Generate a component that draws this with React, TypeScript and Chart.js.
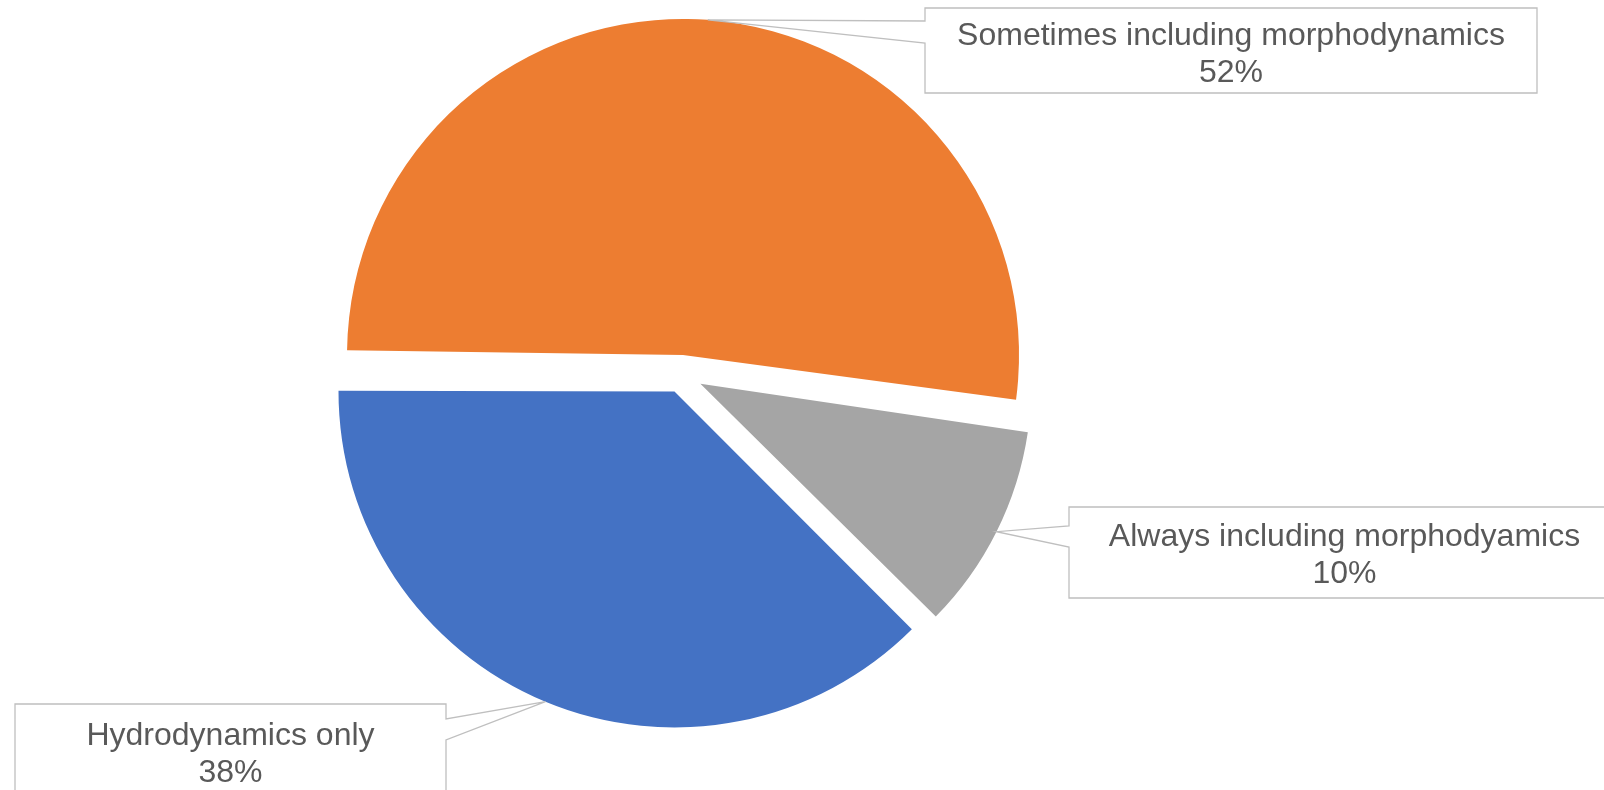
import React, { useEffect, useRef } from "react";
import { Chart, registerables } from "chart.js";

Chart.register(...registerables);

// ---- data (clockwise order, starting from the blue slice) ----
const categories = [
  "Hydrodynamics only",
  "Sometimes including morphodynamics",
  "Always including morphodyamics",
];
const shares = [37.6, 52.2, 10.2];
const sliceColors = ["#4472C4", "#ED7D31", "#A5A5A5"];
const explodeOffsets = [74, 78, 84]; // Chart.js arc offset (translation = offset / 4)
const sliceRadiusTrim = [0, 0, 5]; // px less than the common radius

// ---- callout layout (boxes, notch on box side, first baseline) ----
const calloutBoxes = [
  { x: 15, y: 704, w: 431, h: 92, side: "right", notch: [719, 740], baseline: 744.5 },
  { x: 925, y: 8, w: 612, h: 85, side: "left", notch: [21, 43], baseline: 45 },
  { x: 1069, y: 507, w: 551, h: 91, side: "left", notch: [526, 547], baseline: 545.7 },
];

const FONT = '32px "Liberation Sans", Arial, sans-serif';
const LINE_H = 37;
const TEXT_COLOR = "#595959";
const BORDER_COLOR = "#BFBFBF";

// Keep exploded slices at the intended radius (Chart.js enlarges exploded arcs)
const equalRadiusPlugin = {
  id: "equalRadius",
  afterDatasetUpdate(chart: any, args: any) {
    const meta = args.meta;
    const R = meta.controller.outerRadius;
    meta.data.forEach((el: any, i: number) => {
      const circ = el.endAngle - el.startAngle;
      const fix = 1 - Math.sin(Math.min(Math.PI, circ));
      const o = (el.options?.offset || 0) / 4;
      el.outerRadius = R - (sliceRadiusTrim[i] || 0) - o * fix;
    });
  },
};

const calloutPlugin = {
  id: "callouts",
  afterDatasetsDraw(chart: any) {
    const ctx: CanvasRenderingContext2D = chart.ctx;
    const meta = chart.getDatasetMeta(0);
    const values = chart.data.datasets[0].data as number[];
    const total = values.reduce((a, b) => a + b, 0);
    meta.data.forEach((el: any, i: number) => {
      const cfg = calloutBoxes[i];
      if (!cfg) return;
      const R = meta.controller.outerRadius - (sliceRadiusTrim[i] || 0);
      const mid = (el.startAngle + el.endAngle) / 2;
      const t = (el.options?.offset || 0) / 4;
      const cx = el.x + Math.cos(mid) * t;
      const cy = el.y + Math.sin(mid) * t;
      const tipX = cx + Math.cos(mid) * R;
      const tipY = cy + Math.sin(mid) * R;
      const { x, y, w, h, side, notch } = cfg;
      ctx.save();
      ctx.beginPath();
      if (side === "left") {
        ctx.moveTo(x, y);
        ctx.lineTo(x + w, y);
        ctx.lineTo(x + w, y + h);
        ctx.lineTo(x, y + h);
        ctx.lineTo(x, notch[1]);
        ctx.lineTo(tipX, tipY);
        ctx.lineTo(x, notch[0]);
      } else {
        ctx.moveTo(x, y);
        ctx.lineTo(x + w, y);
        ctx.lineTo(x + w, notch[0]);
        ctx.lineTo(tipX, tipY);
        ctx.lineTo(x + w, notch[1]);
        ctx.lineTo(x + w, y + h);
        ctx.lineTo(x, y + h);
      }
      ctx.closePath();
      ctx.fillStyle = "#FFFFFF";
      ctx.fill();
      ctx.lineWidth = 1.3;
      ctx.strokeStyle = BORDER_COLOR;
      ctx.lineJoin = "miter";
      ctx.stroke();

      ctx.fillStyle = TEXT_COLOR;
      ctx.font = FONT;
      ctx.textAlign = "center";
      ctx.textBaseline = "alphabetic";
      const tx = x + w / 2;
      const pct = Math.round((values[i] / total) * 100) + "%";
      ctx.fillText(String(chart.data.labels[i]), tx, cfg.baseline);
      ctx.fillText(pct, tx, cfg.baseline + LINE_H);
      ctx.restore();
    });
  },
};

export default function App() {
  const canvasRef = useRef<HTMLCanvasElement | null>(null);

  useEffect(() => {
    const canvas = canvasRef.current;
    if (!canvas) return;
    const chart = new Chart(canvas, {
      type: "pie",
      data: {
        labels: categories,
        datasets: [
          {
            data: shares,
            backgroundColor: sliceColors,
            borderWidth: 0,
            offset: explodeOffsets,
          } as any,
        ],
      },
      options: {
        responsive: false,
        animation: false,
        events: [],
        rotation: 134.9,
        radius: 336,
        layout: { padding: { left: 0, right: 240.8, top: 0, bottom: 41.2 } },
        plugins: {
          legend: { display: false },
          tooltip: { enabled: false },
        },
      } as any,
      plugins: [equalRadiusPlugin, calloutPlugin],
    });
    return () => chart.destroy();
  }, []);

  return (
    <div style={{ position: "absolute", left: 0, top: 0, width: 1604, height: 790, background: "#FFFFFF" }}>
      <canvas ref={canvasRef} width={1604} height={790} style={{ display: "block" }} />
    </div>
  );
}
